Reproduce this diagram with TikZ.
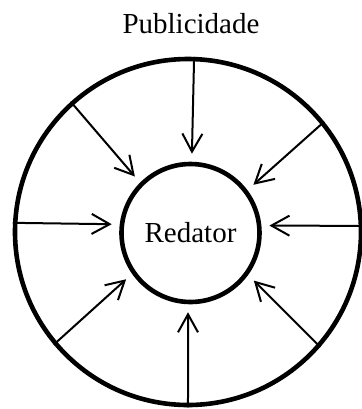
\documentclass[tikz,border=0pt]{standalone}
\usepackage{fontspec}
\setmainfont{Liberation Serif}
\usetikzlibrary{arrows.meta,positioning}

\tikzset{
  roda/.style={circle,draw,line width=2.3pt,inner sep=0pt},
  seta/.style={-{Straight Barb[length=9pt,width=10pt]},line width=1pt,shorten >=4pt},
  rotulo/.style={font=\fontsize{14.5}{17}\selectfont}
}

\begin{document}
\begin{tikzpicture}[x=0.5pt,y=-0.5pt]
  \useasboundingbox (0,0) rectangle (362,409);
  % circulos
  \node[roda,minimum size=173pt] (publico) at (188,232) {};
  \node[roda,rotulo,minimum size=69pt] (redator) at (190.5,233) {Redator};
  \node[rotulo,anchor=base] (titulo) at (191,33) {Publicidade};
  % setas: angulo no circulo externo / angulo no circulo interno
  \foreach \a/\b in {2.3/6.5, 39.2/37.1, 88.8/89, 132.5/135.4,
                     177.7/173.5, 220.1/215, 270.3/268.8, 319/324.5}
    \draw[seta] (publico.\a) -- (redator.\b);
\end{tikzpicture}
\end{document}
